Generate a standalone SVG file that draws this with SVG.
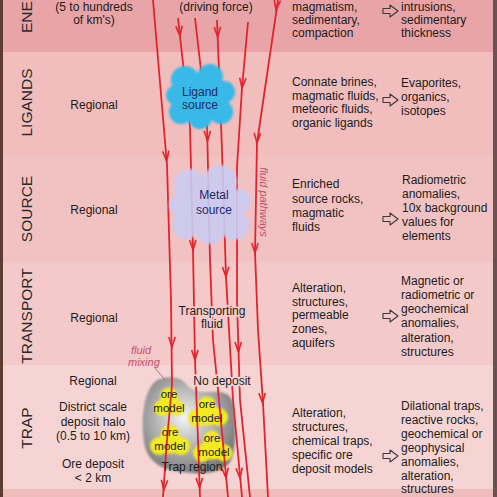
<svg xmlns="http://www.w3.org/2000/svg" xmlns:xlink="http://www.w3.org/1999/xlink" width="497" height="497" viewBox="0 0 497 497">
<style>
text{font-family:"Liberation Sans",Arial,sans-serif;font-size:12px;fill:#1c1c1c}
.lab{font-size:15.5px;fill:#2a2a2a}
.mid{text-anchor:middle}
.src{fill:#1f2b66;font-size:12px}
.it{font-style:italic;fill:#c4506a;font-size:11px}
.ore{font-size:11.5px}
.flow{fill:none;stroke:#e5232b;stroke-width:1.8;stroke-linejoin:round}
.haloT{paint-order:stroke;stroke:#f4c9c9;stroke-width:3.5;stroke-linejoin:round}
.haloP{paint-order:stroke;stroke:#f6d4d3;stroke-width:3.5;stroke-linejoin:round}
</style>
<defs>
<path id="ah" d="M-3.2,-10 L0,0 L3.2,-10" fill="none" stroke="#e5232b" stroke-width="1.6"/>
<path id="ha" d="M0,-2.5 H7 V-6 L15,0 L7,6 V2.5 H0 Z" fill="none" stroke="#3a3a3a" stroke-width="1.1" stroke-linejoin="round"/>
<radialGradient id="trapG" cx="0.45" cy="0.42" r="0.6">
<stop offset="0" stop-color="#f4f4f4"/>
<stop offset="0.55" stop-color="#b0b0b0"/>
<stop offset="1" stop-color="#7a7a7a"/>
</radialGradient>
<filter id="soft" x="-10%" y="-10%" width="120%" height="120%"><feGaussianBlur stdDeviation="1.2"/></filter>
</defs>

<g id="background">
<rect x="0" y="0" width="497" height="52" fill="#e9a4a7"/>
<rect x="0" y="52" width="497" height="104" fill="#f1bdbd"/>
<rect x="0" y="156" width="497" height="106" fill="#f2c2c2"/>
<rect x="0" y="262" width="497" height="103" fill="#f4c9c9"/>
<rect x="0" y="365" width="497" height="124" fill="#f6d4d3"/>
<rect x="0" y="489" width="497" height="8" fill="#efbcbc"/>
<rect x="0" y="0" width="3" height="497" fill="#5e3c34"/>
<rect x="493" y="0" width="4" height="497" fill="#6a5252"/>
</g>

<g id="row-labels">
<text class="lab" transform="translate(32,33) rotate(-90)">ENE</text>
<text class="lab mid" transform="translate(32,102.5) rotate(-90)">LIGANDS</text>
<text class="lab mid" transform="translate(32,209) rotate(-90)">SOURCE</text>
<text class="lab mid" transform="translate(32,316) rotate(-90)">TRANSPORT</text>
<text class="lab mid" transform="translate(32,428) rotate(-90)">TRAP</text>
</g>

<g id="scale-column">
<text class="mid" x="94" y="11">(5 to hundreds</text>
<text class="mid" x="94" y="24">of km's)</text>
<text class="mid" x="94" y="109">Regional</text>
<text class="mid" x="94" y="214">Regional</text>
<text class="mid" x="94" y="322">Regional</text>
<text class="mid" x="93" y="385">Regional</text>
<text class="mid" x="93" y="411">District scale</text>
<text class="mid" x="93" y="426">deposit halo</text>
<text class="mid" x="93" y="440">(0.5 to 10 km)</text>
<text class="mid" x="93" y="468">Ore deposit</text>
<text class="mid" x="93" y="482">&lt; 2 km</text>
</g>

<g id="trap-region">
<path d="M152,385 C158,376 178,374 186,384 C192,392 200,392 212,392 C226,390 234,396 234,410 C236,430 236,450 230,462 C222,474 200,475 182,472 C162,470 147,462 144,442 C141,420 143,398 152,385 Z" fill="url(#trapG)" filter="url(#soft)"/>
</g>

<g id="ore-blobs" fill="#f2ea22" filter="url(#soft)">
<circle cx="169" cy="396" r="8.5"/><circle cx="162" cy="408" r="8"/><circle cx="177" cy="408" r="7.5"/><circle cx="169" cy="404" r="10.5"/>
<circle cx="207" cy="405" r="8.5"/><circle cx="197" cy="418" r="9"/><circle cx="219" cy="417" r="9"/><circle cx="208" cy="414" r="11.5"/>
<circle cx="170" cy="433" r="8.5"/><circle cx="159" cy="446" r="9"/><circle cx="181" cy="446" r="9"/><circle cx="170" cy="442" r="11.5"/>
<circle cx="212" cy="439" r="8.5"/><circle cx="202" cy="453" r="9"/><circle cx="224" cy="453" r="8.5"/><circle cx="213" cy="448" r="11.5"/>
</g>

<g id="connectors">
<path class="flow" d="M153,0 L167,165 L171,300 L172,385 L167,440 L163,497"/>
<path class="flow" d="M178,18 L190,127 L193,250 L195,360 L198,440 L200,497"/>
<path class="flow" d="M195,18 L207,123 L210,260 L213,340 L218,390 L228,497"/>
<path class="flow" d="M217,20 L222,150 L226,277 L233,400 L242,497"/>
<path class="flow" d="M248,22 L242,88 L237,167 L237,300 L240,400 L250,497"/>
<path class="flow" d="M278,0 L257,143 L255,252 L258,330 L263,403 L268,497"/>
<use xlink:href="#ah" transform="translate(166.6,161) rotate(-4.8)"/>
<use xlink:href="#ah" transform="translate(172,347)"/>
<use xlink:href="#ah" transform="translate(163.8,490) rotate(4)"/>
<use xlink:href="#ah" transform="translate(180,36) rotate(-6)"/>
<use xlink:href="#ah" transform="translate(193,250) rotate(-1)"/>
<use xlink:href="#ah" transform="translate(195,360) rotate(-1)"/>
<use xlink:href="#ah" transform="translate(199.6,488) rotate(-2)"/>
<use xlink:href="#ah" transform="translate(207.5,141) rotate(-1)"/>
<use xlink:href="#ah" transform="translate(226,478) rotate(-5)"/>
<use xlink:href="#ah" transform="translate(217.7,37) rotate(-2)"/>
<use xlink:href="#ah" transform="translate(226,277) rotate(-2)"/>
<use xlink:href="#ah" transform="translate(240,478) rotate(-5)"/>
<use xlink:href="#ah" transform="translate(242,88) rotate(5)"/>
<use xlink:href="#ah" transform="translate(238.5,352) rotate(-2)"/>
<use xlink:href="#ah" transform="translate(276,10) rotate(8)"/>
<use xlink:href="#ah" transform="translate(257,143) rotate(2)"/>
<use xlink:href="#ah" transform="translate(255,253) rotate(0)"/>
<use xlink:href="#ah" transform="translate(262.6,403) rotate(-3)"/>
<path d="M155,368 L165,380" fill="none" stroke="#8a6a6a" stroke-width="0.8"/>
</g>

<g id="ligand-source">
<g fill="#37b9e7" filter="url(#soft)">
<circle cx="185" cy="80" r="14"/><circle cx="210" cy="77" r="13"/><circle cx="224" cy="92" r="11"/>
<circle cx="221" cy="112" r="12"/><circle cx="200" cy="117" r="12"/><circle cx="181" cy="112" r="12"/>
<circle cx="176" cy="95" r="10"/><circle cx="200" cy="97" r="22"/>
</g>
<text class="src mid" x="200" y="96">Ligand</text>
<text class="src mid" x="200" y="109">source</text>
</g>

<g id="metal-source">
<g fill="#c9cbf3" opacity="0.9" filter="url(#soft)">
<circle cx="190" cy="185" r="16"/><circle cx="220" cy="182" r="17"/><circle cx="239" cy="201" r="12"/>
<circle cx="234" cy="225" r="15"/><circle cx="210" cy="231" r="13"/><circle cx="186" cy="225" r="14"/>
<circle cx="180" cy="205" r="11"/><circle cx="210" cy="206" r="26"/>
</g>
<text class="src mid" x="214" y="199">Metal</text>
<text class="src mid" x="214" y="214">source</text>
</g>

<g id="center-labels">
<text class="mid" x="216" y="11">(driving force)</text>
<text class="mid haloT" x="212" y="315">Transporting</text>
<text class="mid haloT" x="212" y="328">fluid</text>
<text class="mid haloP" x="222" y="385">No deposit</text>
<text class="ore mid" x="169" y="398">ore</text>
<text class="ore mid" x="169" y="412">model</text>
<text class="ore mid" x="207" y="408">ore</text>
<text class="ore mid" x="207" y="422">model</text>
<text class="ore mid" x="170" y="436">ore</text>
<text class="ore mid" x="170" y="450">model</text>
<text class="ore mid" x="212" y="442">ore</text>
<text class="ore mid" x="214" y="456">model</text>
<text class="mid" x="192" y="471">Trap region</text>
<text class="it" x="131" y="354">fluid</text>
<text class="it" x="128" y="366">mixing</text>
<text class="it mid" transform="translate(260,202) rotate(90)">fluid pathways</text>
</g>

<g id="processes">
<text x="292" y="11">magmatism,</text>
<text x="292" y="24">sedimentary,</text>
<text x="292" y="37">compaction</text>
<text x="292" y="86">Connate brines,</text>
<text x="292" y="100">magmatic fluids,</text>
<text x="292" y="113">meteoric fluids,</text>
<text x="292" y="127">organic ligands</text>
<text x="292" y="188">Enriched</text>
<text x="292" y="203">source rocks,</text>
<text x="292" y="217">magmatic</text>
<text x="292" y="231">fluids</text>
<text x="292" y="292">Alteration,</text>
<text x="292" y="306">structures,</text>
<text x="292" y="319">permeable</text>
<text x="292" y="333">zones,</text>
<text x="292" y="347">aquifers</text>
<text x="292" y="417">Alteration,</text>
<text x="292" y="431">structures,</text>
<text x="292" y="445">chemical traps,</text>
<text x="292" y="459">specific ore</text>
<text x="292" y="473">deposit models</text>
</g>

<g id="arrows">
<use xlink:href="#ha" transform="translate(383,11)"/>
<use xlink:href="#ha" transform="translate(383,100)"/>
<use xlink:href="#ha" transform="translate(383,219)"/>
<use xlink:href="#ha" transform="translate(383,316)"/>
<use xlink:href="#ha" transform="translate(383,456)"/>
</g>

<g id="indicators">
<text x="401" y="11">intrusions,</text>
<text x="401" y="24">sedimentary</text>
<text x="401" y="37">thickness</text>
<text x="401" y="87">Evaporites,</text>
<text x="401" y="101">organics,</text>
<text x="401" y="115">isotopes</text>
<text x="402" y="184">Radiometric</text>
<text x="402" y="198">anomalies,</text>
<text x="402" y="212">10x background</text>
<text x="402" y="226">values for</text>
<text x="402" y="240">elements</text>
<text x="401" y="285">Magnetic or</text>
<text x="401" y="299">radiometric or</text>
<text x="401" y="313">geochemical</text>
<text x="401" y="327">anomalies,</text>
<text x="401" y="342">alteration,</text>
<text x="401" y="356">structures</text>
<text x="401" y="410">Dilational traps,</text>
<text x="401" y="424">reactive rocks,</text>
<text x="401" y="438">geochemical or</text>
<text x="401" y="452">geophysical</text>
<text x="401" y="466">anomalies,</text>
<text x="401" y="480">alteration,</text>
<text x="401" y="493">structures</text>
</g>
</svg>
